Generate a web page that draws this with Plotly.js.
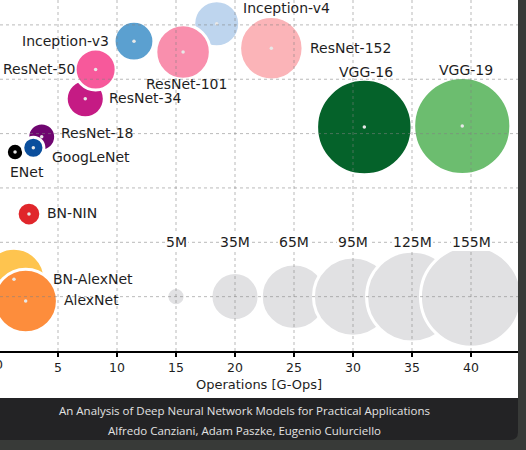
<!DOCTYPE html>
<html><head><meta charset="utf-8">
<script src="https://cdn.plot.ly/plotly-3.0.1.min.js"></script>
<style>html,body{margin:0;padding:0;background:#383a38;overflow:hidden}#chart{width:526px;height:450px}</style>
</head><body><div id="chart"></div>
<script>
// ---- data ----
const names   = ['BN-AlexNet','AlexNet','BN-NIN','ENet','ResNet-18','GoogLeNet','ResNet-34','ResNet-50','Inception-v3','Inception-v4','ResNet-101','ResNet-152','VGG-16','VGG-19'];
const ops     = [1.27, 2.26, 2.54, 1.36, 3.62, 2.91, 7.31, 8.19, 11.44, 18.45, 15.6, 23.08, 30.96, 39.26];
const top1    = [56.6, 54.6, 62.6, 68.3, 69.7, 68.7, 73.2, 75.9, 78.5, 80.1, 77.5, 77.85, 70.6, 70.7];
const paramsM = [58, 61, 8.5, 4.6, 11.8, 6.8, 22, 25.5, 24, 32, 45, 61, 138, 143];

const refOps    = [15, 20, 25, 30, 35, 40];
const refTop1   = [55, 55, 55, 55, 55, 55];
const refParams = [5, 35, 65, 95, 125, 155];
const refLabels = ['5M', '35M', '65M', '95M', '125M', '155M'];

const xTickVals = [0, 5, 10, 15, 20, 25, 30, 35, 40];
const yGridVals = [55, 60, 65, 70, 75, 80];

const xTitle = 'Operations [G-Ops]';
const caption1 = 'An Analysis of Deep Neural Network Models for Practical Applications';
const caption2 = 'Alfredo Canziani, Adam Paszke, Eugenio Culurciello';

// ---- styles ----
const colors = {
  'BN-AlexNet':'#fec44f','AlexNet':'#fd8d3c','BN-NIN':'#e0262b','ENet':'#000000',
  'ResNet-18':'#6f0670','GoogLeNet':'#0b4f9d','ResNet-34':'#c51b84','ResNet-50':'#f7599b',
  'Inception-v3':'#5ba0d0','Inception-v4':'#bed5ee','ResNet-101':'#f98fad','ResNet-152':'#fbb4b8',
  'VGG-16':'#05622a','VGG-19':'#6cbd6f'
};
// label placement relative to the bubble centre, in pixels
const labelStyle = {
  'BN-AlexNet':{a:'left',dx:38.7,dy:0.3}, 'AlexNet':{a:'left',dx:38.3,dy:1},
  'BN-NIN':{a:'left',dx:17.7,dy:0.7}, 'ENet':{a:'center',dx:12,dy:-20},
  'ResNet-18':{a:'left',dx:19.3,dy:3.4}, 'GoogLeNet':{a:'left',dx:18.4,dy:-9},
  'ResNet-34':{a:'left',dx:24,dy:1}, 'ResNet-50':{a:'right',dx:-20.7,dy:0},
  'Inception-v3':{a:'right',dx:-25,dy:0}, 'Inception-v4':{a:'left',dx:26.6,dy:15.7},
  'ResNet-101':{a:'center',dx:3.7,dy:-31.6}, 'ResNet-152':{a:'left',dx:38.4,dy:0},
  'VGG-16':{a:'center',dx:1.7,dy:55.3}, 'VGG-19':{a:'center',dx:3.7,dy:55.7}
};
const SIZEREF = 0.0303;
const txtFont = {family:'DejaVu Sans', size:14, color:'#1e1e1e'};

const traces = [
  { type:'scatter', mode:'markers', x:refOps, y:refTop1,
    marker:{size:refParams, sizemode:'area', sizeref:SIZEREF, opacity:1, color:'#e1e1e3', line:{color:'#ffffff', width:3}},
    hoverinfo:'skip', cliponaxis:true },
  { type:'scatter', mode:'markers', x:ops, y:top1,
    marker:{size:paramsM, sizemode:'area', sizeref:SIZEREF, opacity:1, color:names.map(n=>colors[n]), line:{color:'#ffffff', width:3}},
    hoverinfo:'skip', cliponaxis:true },
  { type:'scatter', mode:'markers', x:ops, y:top1,
    marker:{size:3.5, opacity:1, color:'#e8e8e8', line:{width:0}}, hoverinfo:'skip' }
];

const annotations = [];
names.forEach((n,i)=>{
  const s = labelStyle[n];
  annotations.push({x:ops[i], y:top1[i], xref:'x', yref:'y', text:n, showarrow:false,
    xanchor:s.a, yanchor:'middle', xshift:s.dx, yshift:s.dy, font:txtFont, borderpad:0, borderwidth:0});
});
refLabels.forEach((t,i)=>{
  annotations.push({x:refOps[i], y:refTop1[i], xref:'x', yref:'y', text:t, showarrow:false,
    xanchor:'center', yanchor:'middle', yshift:55, font:txtFont, bgcolor:'#ffffff', borderpad:1, borderwidth:0});
});
// partially visible "0" tick label at the left edge
annotations.push({x:-1/518, y:-0.0385, xref:'paper', yref:'paper', text:'0', showarrow:false,
  xanchor:'center', yanchor:'middle', font:{family:'DejaVu Sans', size:12.5, color:'#1e1e1e'}, borderpad:0, borderwidth:0});
annotations.push({x:244/518, y:(351-410)/351, xref:'paper', yref:'paper', text:caption1, showarrow:false,
  xanchor:'center', yanchor:'middle', font:{family:'Open Sans', size:11.5, color:'#e2e2e2'}});
annotations.push({x:244/518, y:(351-430)/351, xref:'paper', yref:'paper', text:caption2, showarrow:false,
  xanchor:'center', yanchor:'middle', font:{family:'Open Sans', size:11.5, color:'#e2e2e2'}});

const gridLine = {color:'rgba(130,130,130,0.55)', width:1, dash:'3px,3px'};
const shapes = [
  {type:'rect', xref:'paper', yref:'paper', x0:-0.01, x1:1, y0:(351-398)/351, y1:1.01, fillcolor:'#ffffff', line:{width:0}, layer:'below'},
  {type:'path', xref:'paper', yref:'paper', layer:'below', fillcolor:'#232325', line:{width:0},
   path:`M -0.01 ${(351-398)/351} L 1 ${(351-398)/351} L 1 ${(351-432)/351} Q 1 ${(351-440)/351} ${510/518} ${(351-440)/351} L -0.01 ${(351-440)/351} Z`}
];
xTickVals.filter(v=>v>0).forEach(v=>shapes.push({type:'line', xref:'x', yref:'paper', x0:v, x1:v, y0:0, y1:1, line:gridLine, layer:'above'}));
yGridVals.forEach(v=>shapes.push({type:'line', xref:'paper', yref:'y', x0:0, x1:1, y0:v, y1:v, line:gridLine, layer:'above'}));

const layout = {
  width:526, height:450,
  margin:{l:0, r:8, t:0, b:99, pad:0},
  paper_bgcolor:'#383a38', plot_bgcolor:'rgba(0,0,0,0)',
  showlegend:false,
  xaxis:{range:[0.085, 0.085+518/11.8], tickvals:xTickVals, ticktext:xTickVals.map(String),
    showgrid:false, zeroline:false, showline:true, linecolor:'#000000', linewidth:1.5,
    ticks:'outside', ticklen:4, tickwidth:1.5, tickcolor:'#000000',
    tickfont:{family:'DejaVu Sans', size:12.5, color:'#1e1e1e'},
    title:{text:xTitle, font:{family:'DejaVu Sans', size:13, color:'#1e1e1e'}, standoff:6}},
  yaxis:{range:[50, 50+351/10.87], showgrid:false, zeroline:false, showline:false, showticklabels:false, ticks:''},
  shapes:shapes, annotations:annotations
};
Plotly.newPlot('chart', traces, layout, {staticPlot:true, displayModeBar:false});
</script></body></html>
